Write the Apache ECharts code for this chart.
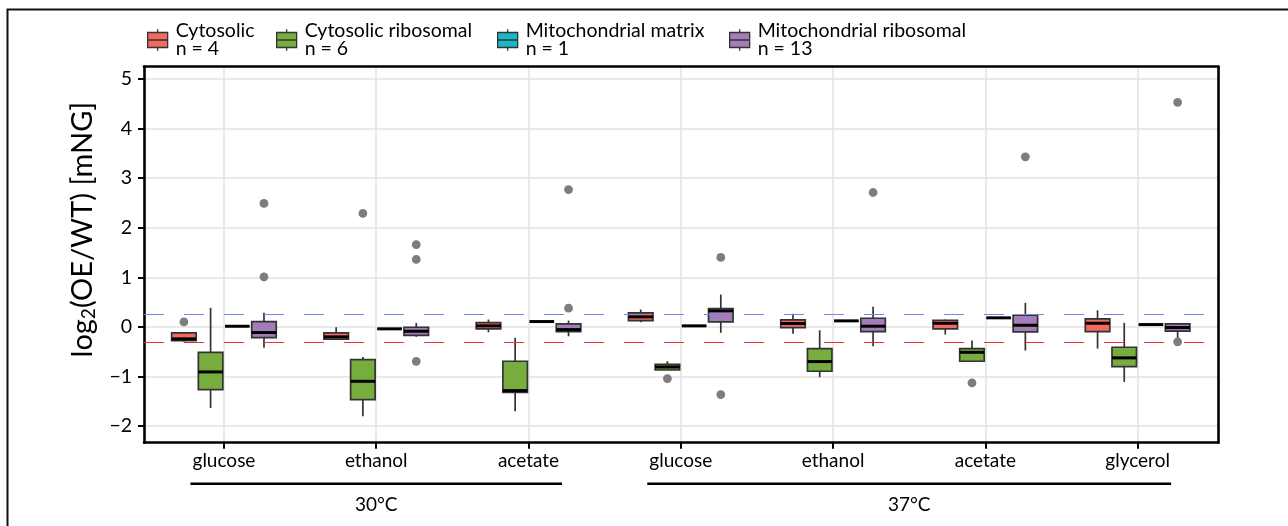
<!DOCTYPE html>
<html>
<head>
<meta charset="utf-8">
<script src="https://cdn.jsdelivr.net/npm/echarts@6/dist/echarts.min.js"></script>
<style>
  html, body { margin: 0; padding: 0; background: #fff; }
  #chart { width: 1288px; height: 526px; }
</style>
</head>
<body>
<div id="chart"></div>
<script>
// ---- data -------------------------------------------------------------
const categories = ['glucose', 'ethanol', 'acetate', 'glucose', 'ethanol', 'acetate', 'glycerol'];
const conditions = [
  { label: '30°C', first: 1, last: 3 },
  { label: '37°C', first: 4, last: 7 }
];
const seriesNames = ['Cytosolic', 'Cytosolic ribosomal', 'Mitochondrial matrix', 'Mitochondrial ribosomal'];
const seriesCounts = [4, 6, 1, 13];

// box statistics per category: [lower whisker, Q1, median, Q3, upper whisker]
const cytosolic = [
  [-0.30, -0.277, -0.242, -0.121, -0.121],
  [-0.26, -0.25, -0.202, -0.121, -0.008],
  [-0.109, -0.04, 0.02, 0.087, 0.147],
  [0.093, 0.127, 0.202, 0.283, 0.349],
  [-0.141, -0.014, 0.067, 0.141, 0.262],
  [-0.155, -0.04, 0.073, 0.133, 0.147],
  [-0.438, -0.095, 0.073, 0.162, 0.335]
];
const cytosolicRibosomal = [
  [-1.636, -1.266, -0.909, -0.513, 0.384],
  [-1.805, -1.468, -1.098, -0.66, -0.606],
  [-1.704, -1.32, -1.286, -0.694, -0.222],
  [-0.87, -0.87, -0.81, -0.755, -0.694],
  [-1.017, -0.896, -0.70, -0.438, -0.068],
  [-0.694, -0.694, -0.513, -0.438, -0.277],
  [-1.111, -0.802, -0.626, -0.411, 0.08]
];
const mitochondrialMatrix = [0.012, -0.04, 0.107, 0.02, 0.121, 0.182, 0.046];
const mitochondrialRibosomal = [
  [-0.424, -0.216, -0.115, 0.107, 0.283],
  [-0.20, -0.17, -0.089, -0.008, 0.08],
  [-0.19, -0.095, -0.055, 0.06, 0.127],
  [-0.121, 0.10, 0.323, 0.37, 0.652],
  [-0.391, -0.095, 0.013, 0.174, 0.404],
  [-0.479, -0.101, 0.032, 0.234, 0.485],
  [-0.27, -0.088, -0.014, 0.06, 0.08]
];

// outliers: [category number, value]
const cytosolicOutliers = [[1, 0.10]];
const cytosolicRibosomalOutliers = [[2, 2.29], [4, -1.044], [6, -1.131]];
const mitochondrialMatrixOutliers = [];
const mitochondrialRibosomalOutliers = [
  [1, 2.49], [1, 1.01],
  [2, 1.66], [2, 1.36], [2, -0.695],
  [3, 2.77], [3, 0.376],
  [4, 1.40], [4, -1.367],
  [5, 2.71],
  [6, 3.43],
  [7, 4.53], [7, -0.303]
];

const yTicks = [-2, -1, 0, 1, 2, 3, 4, 5];
const upperThreshold = 0.263;   // log2(1.2)
const lowerThreshold = -0.322;  // log2(0.8)

// ---- styling ------------------------------------------------------------
const FONT = 'Lato';
const COLORS = ['#F26B61', '#77AD3F', '#17B9C8', '#A47CB8'];
const X_MIN = 0.475, X_MAX = 7.53;
const Y_MIN = -2.337, Y_MAX = 5.248;
const BOX_WIDTH = 0.161;
const DODGE = 0.1753;
const OUTLINE = '#333';
const OUTLINE_WIDTH = 1.7;

const statsBySeries = [
  cytosolic,
  cytosolicRibosomal,
  mitochondrialMatrix.map(v => [v, v, v, v, v]),
  mitochondrialRibosomal
];
const outliersBySeries = [
  cytosolicOutliers, cytosolicRibosomalOutliers,
  mitochondrialMatrixOutliers, mitochondrialRibosomalOutliers
];

function dodgeOffset(si) { return (si - 1.5) * DODGE; }

function boxRenderer(si) {
  return function (params, api) {
    const x = api.value(0) + dodgeOffset(si);
    const half = api.size([BOX_WIDTH, 0])[0] / 2;
    const p = [1, 2, 3, 4, 5].map(d => api.coord([x, api.value(d)]));
    const cx = p[0][0];
    return {
      type: 'group',
      children: [
        { type: 'line', shape: { x1: cx, y1: p[3][1], x2: cx, y2: p[4][1] }, style: { stroke: OUTLINE, lineWidth: OUTLINE_WIDTH } },
        { type: 'line', shape: { x1: cx, y1: p[0][1], x2: cx, y2: p[1][1] }, style: { stroke: OUTLINE, lineWidth: OUTLINE_WIDTH } },
        { type: 'rect', shape: { x: cx - half, y: p[3][1], width: 2 * half, height: p[1][1] - p[3][1] },
          style: { fill: COLORS[si], stroke: OUTLINE, lineWidth: OUTLINE_WIDTH } },
        { type: 'line', shape: { x1: cx - half, y1: p[2][1], x2: cx + half, y2: p[2][1] }, style: { stroke: '#000', lineWidth: 3 } }
      ]
    };
  };
}

function outlierRenderer(si) {
  return function (params, api) {
    const pt = api.coord([api.value(0) + dodgeOffset(si), api.value(1)]);
    return { type: 'circle', shape: { cx: pt[0], cy: pt[1], r: 4.4 }, style: { fill: '#7d7d7f' } };
  };
}

function bracketRenderer(params, api) {
  const c = conditions[params.dataIndex];
  const left = api.coord([c.first - 0.22, Y_MIN]);
  const right = api.coord([c.last + 0.22, Y_MIN]);
  const yLine = left[1] + 41;
  return {
    type: 'group',
    children: [
      { type: 'line', shape: { x1: left[0], y1: yLine, x2: right[0], y2: yLine }, style: { stroke: '#000', lineWidth: 2.6 } },
      { type: 'text', x: (left[0] + right[0]) / 2, y: yLine + 21,
        style: { text: c.label, fill: '#000', font: '19px ' + FONT, align: 'center', verticalAlign: 'middle' } }
    ]
  };
}

const BOX_ICON = 'path://M0,3.3 L20,3.3 L20,18.3 L0,18.3 Z M10,0 L10,3.3 M10,18.3 L10,21.6 M0,10.8 L20,10.8';
const LEGEND_LEFT = [147, 276, 497, 729];

const series = [];
// dashed threshold lines
series.push({
  name: 'thresholds', type: 'line', data: [], z: 1, silent: true,
  markLine: {
    symbol: 'none', silent: true, label: { show: false },
    lineStyle: { type: [20, 20], width: 1.2 },
    data: [
      { yAxis: upperThreshold, lineStyle: { color: '#6F8BE3', type: [20, 20], width: 1.2 } },
      { yAxis: lowerThreshold, lineStyle: { color: '#E8352E', type: [20, 20], width: 1.2 } }
    ]
  }
});
seriesNames.forEach((name, si) => {
  series.push({
    name: name, type: 'custom', z: 3,
    itemStyle: { color: COLORS[si] },
    renderItem: boxRenderer(si),
    encode: { x: 0, y: [1, 2, 3, 4, 5] },
    data: statsBySeries[si].map((s, i) => [i + 1].concat(s))
  });
});
seriesNames.forEach((name, si) => {
  series.push({
    name: name + ' outliers', type: 'custom', z: 4,
    renderItem: outlierRenderer(si),
    encode: { x: 0, y: 1 },
    data: outliersBySeries[si]
  });
});
series.push({
  name: 'conditions', type: 'custom', clip: false, silent: true,
  renderItem: bracketRenderer,
  encode: { x: 0, y: 1 },
  data: conditions.map(c => [c.first, Y_MIN])
});

const option = {
  animation: false,
  backgroundColor: '#fff',
  color: COLORS,
  textStyle: { fontFamily: FONT },
  grid: { left: 144, top: 66.7, right: 69.7, bottom: 83.3 },
  graphic: [{
    type: 'rect', left: 5, top: 7, silent: true,
    shape: { width: 1281.5, height: 540 },
    style: { fill: 'none', stroke: '#111', lineWidth: 2 }
  }],
  legend: seriesNames.map((name, i) => ({
    data: [name],
    left: LEGEND_LEFT[i], top: 21, padding: 0,
    itemWidth: 20, itemHeight: 22, itemGap: 0,
    icon: BOX_ICON,
    itemStyle: { borderColor: '#333', borderWidth: 1.3 },
    formatter: n => n + '\nn = ' + seriesCounts[i],
    textStyle: { fontFamily: FONT, fontSize: 19.5, lineHeight: 18, color: '#000', padding: [0, 0, 0, 3] }
  })),
  xAxis: [{
    type: 'value', min: X_MIN, max: X_MAX,
    axisLine: { show: true, onZero: false, lineStyle: { color: '#000', width: 2.6 } },
    axisTick: { show: true, length: 6, customValues: categories.map((c, i) => i + 1), lineStyle: { color: '#000', width: 2 } },
    axisLabel: {
      customValues: categories.map((c, i) => i + 1),
      formatter: v => categories[Math.round(v) - 1] || '',
      fontFamily: FONT, fontSize: 19, color: '#000', margin: 9
    },
    splitLine: { show: true, lineStyle: { color: '#e2e2e2', width: 1.5 } }
  }, {
    type: 'value', min: X_MIN, max: X_MAX, position: 'top',
    axisLine: { show: true, onZero: false, lineStyle: { color: '#000', width: 2.6 } },
    axisTick: { show: false }, axisLabel: { show: false }, splitLine: { show: false }
  }],
  yAxis: [{
    type: 'value', min: Y_MIN, max: Y_MAX,
    axisLine: { show: true, onZero: false, lineStyle: { color: '#000', width: 2.6 } },
    axisTick: { show: true, length: 6, customValues: yTicks, lineStyle: { color: '#000', width: 2 } },
    axisLabel: {
      customValues: yTicks,
      formatter: v => (v < 0 ? '\u2212' + Math.abs(v) : String(v)),
      fontFamily: FONT, fontSize: 19.5, color: '#000', margin: 12
    },
    splitLine: { show: true, lineStyle: { color: '#e2e2e2', width: 1.5 } },
    name: 'log{sub|2}(OE/WT) [mNG]',
    nameLocation: 'middle', nameGap: 39, nameRotate: 90,
    nameTextStyle: {
      fontFamily: FONT, fontSize: 29, color: '#000',
      padding: [0, 0, 0, 50],
      rich: { sub: { fontFamily: FONT, fontSize: 19, color: '#000', padding: [12, 0, 0, 0] } }
    }
  }, {
    type: 'value', min: Y_MIN, max: Y_MAX, position: 'right',
    axisLine: { show: true, onZero: false, lineStyle: { color: '#000', width: 2.6 } },
    axisTick: { show: false }, axisLabel: { show: false }, splitLine: { show: false }
  }],
  series: series
};

const chart = echarts.init(document.getElementById('chart'), null, { renderer: 'canvas' });
chart.setOption(option);
</script>
</body>
</html>
